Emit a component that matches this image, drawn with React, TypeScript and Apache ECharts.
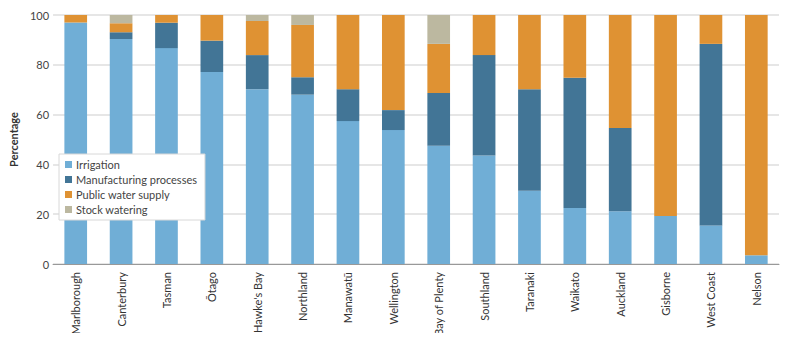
import React, { useEffect, useRef } from "react";
import * as echarts from "echarts";

const categories = ["Marlborough", "Canterbury", "Tasman", "Ōtago", "Hawke's Bay", "Northland", "Manawatū", "Wellington", "Bay of Plenty", "Southland", "Taranaki", "Waikato", "Auckland", "Gisborne", "West Coast", "Nelson"];
const irrigation = [97, 90.4, 86.7, 77.1, 70.2, 68, 57.4, 53.8, 47.5, 43.6, 29.4, 22.5, 21.2, 19.3, 15.5, 3.5];
const manufacturing = [0, 2.7, 10.2, 12.6, 13.7, 7, 12.8, 8, 21.2, 40.3, 40.8, 52.3, 33.4, 0, 72.9, 0];
const publicSupply = [3, 3.6, 3.1, 10.3, 13.7, 21, 29.8, 38.2, 19.7, 16.1, 29.8, 25.2, 45.4, 80.7, 11.6, 96.5];
const stockWatering = [0, 3.3, 0, 0, 2.4, 4, 0, 0, 11.6, 0, 0, 0, 0, 0, 0, 0];
const yTicks = [0, 20, 40, 60, 80, 100];

const seriesDefs = [
  { name: "Irrigation", data: irrigation, color: "#70aed6" },
  { name: "Manufacturing processes", data: manufacturing, color: "#427596" },
  { name: "Public water supply", data: publicSupply, color: "#df9233" },
  { name: "Stock watering", data: stockWatering, color: "#bcb8a0" },
];

export default function App() {
  const ref = useRef<HTMLDivElement>(null);
  useEffect(() => {
    const chart = echarts.init(ref.current!, null, { renderer: "svg" });
    chart.setOption({
      animation: false,
      textStyle: { fontFamily: "Lato" },
      grid: { left: 36, right: 16, top: 15, bottom: 77 },
      legend: {
        orient: "vertical",
        left: 59,
        top: 154,
        padding: [5, 8, 5, 6],
        itemGap: 4,
        itemWidth: 7,
        itemHeight: 7,
        icon: "rect",
        backgroundColor: "#fff",
        borderColor: "#d8d8d8",
        borderWidth: 1,
        textStyle: { fontFamily: "Lato", fontSize: 11, color: "#444", padding: [0, 0, 0, -1] },
        data: seriesDefs.map((s) => s.name),
      },
      xAxis: {
        type: "category",
        data: categories,
        axisLine: { lineStyle: { color: "#999", width: 1 } },
        axisTick: { inside: true, length: 5, lineStyle: { color: "#999" } },
        axisLabel: {
          interval: 0,
          rotate: 90,
          fontSize: 11,
          color: "#333",
          margin: 8,
          fontFamily: "Lato",
        },
      },
      yAxis: {
        type: "value",
        min: 0,
        max: 100,
        interval: 20,
        name: "Percentage",
        nameLocation: "middle",
        nameGap: 24,
        nameTextStyle: { fontWeight: "bold", fontSize: 11, color: "#333", fontFamily: "Lato" },
        axisLine: { show: false },
        axisTick: { show: false },
        axisLabel: {
          fontSize: 11,
          color: "#444",
          margin: 4,
          formatter: (v: number) => (yTicks.includes(v) ? String(v) : ""),
        },
        splitLine: { lineStyle: { color: "#dedede", width: 1.5 } },
      },
      series: seriesDefs.map((s) => ({
        name: s.name,
        type: "bar",
        stack: "total",
        data: s.data,
        barWidth: "50%",
        itemStyle: { color: s.color },
      })),
    });
    return () => chart.dispose();
  }, []);
  return <div ref={ref} style={{ width: 795, height: 341, margin: -8 }} />;
}
